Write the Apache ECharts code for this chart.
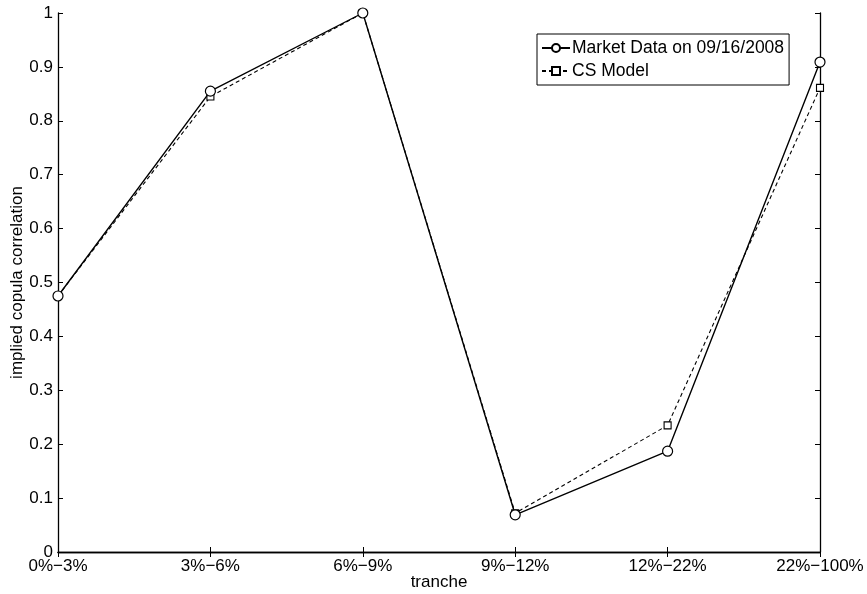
<!DOCTYPE html>
<html>
<head>
<meta charset="utf-8">
<script src="https://cdn.jsdelivr.net/npm/echarts@6/dist/echarts.min.js"></script>
<style>
html,body{margin:0;padding:0;background:#fff;}
#chart{width:867px;height:594px;}
</style>
</head>
<body>
<div id="chart"></div>
<script>
const categories = ['0%\u22123%', '3%\u22126%', '6%\u22129%', '9%\u221212%', '12%\u221222%', '22%\u2212100%'];
const marketData = [0.475, 0.855, 1.0, 0.069, 0.187, 0.909];
const csModel = [0.475, 0.845, 1.0, 0.072, 0.235, 0.861];
const yTicks = [0, 0.1, 0.2, 0.3, 0.4, 0.5, 0.6, 0.7, 0.8, 0.9, 1];

const FONT = 'Liberation Sans, Arial, Helvetica, sans-serif';
const FS = 17;
const chart = echarts.init(document.getElementById('chart'), null, {renderer: 'canvas'});
const axisLine = {show: true, lineStyle: {color: '#000', width: 1.3}};
const tick = {show: true, inside: true, length: 5, lineStyle: {color: '#000', width: 1}};

chart.setOption({
  backgroundColor: '#fff',
  animation: false,
  grid: {left: 58, right: 47, top: 13, bottom: 42, containLabel: false, outerBoundsMode: 'none'},
  legend: {
    orient: 'vertical',
    left: 537, top: 34,
    padding: [5, 5, 5, 4],
    itemGap: 5,
    itemWidth: 28, itemHeight: 10,
    backgroundColor: '#fff',
    borderColor: '#000', borderWidth: 1,
    textStyle: {fontFamily: FONT, fontSize: 17.5, color: '#000', padding: [0, 0, 0, -3]},
    data: ['Market Data on 09/16/2008', 'CS Model']
  },
  xAxis: [{
    type: 'category', data: categories, boundaryGap: false,
    name: 'tranche', nameLocation: 'middle', nameGap: 22, nameMoveOverlap: false,
    nameTextStyle: {fontFamily: FONT, fontSize: FS, color: '#000'},
    axisLine: axisLine, axisTick: Object.assign({alignWithLabel: true}, tick),
    axisLabel: {fontFamily: FONT, fontSize: FS, color: '#000', margin: 6, interval: 0},
    splitLine: {show: false}
  }, {
    type: 'category', data: categories, boundaryGap: false, position: 'top',
    axisLine: axisLine, axisTick: tick, axisLabel: {show: false}, splitLine: {show: false}
  }],
  yAxis: [{
    type: 'value', min: 0, max: 1, interval: 0.1,
    name: 'implied copula correlation', nameLocation: 'middle', nameGap: 32, nameMoveOverlap: false,
    nameTextStyle: {fontFamily: FONT, fontSize: FS, color: '#000'},
    axisLine: axisLine, axisTick: tick,
    axisLabel: {fontFamily: FONT, fontSize: FS, color: '#000', margin: 5,
      formatter: v => { const r = Math.round(v * 10) / 10; return yTicks.indexOf(r) >= 0 ? String(r) : ''; }},
    splitLine: {show: false}
  }, {
    type: 'value', min: 0, max: 1, interval: 0.1, position: 'right',
    axisLine: axisLine, axisTick: tick, axisLabel: {show: false}, splitLine: {show: false}
  }],
  series: [{
    name: 'Market Data on 09/16/2008', type: 'line', data: marketData,
    symbol: 'circle', symbolSize: 10,
    itemStyle: {color: '#fff', borderColor: '#000', borderWidth: 1.2},
    lineStyle: {color: '#000', width: 1.4, type: 'solid'},
    z: 3
  }, {
    name: 'CS Model', type: 'line', data: csModel,
    symbol: 'rect', symbolSize: 7,
    itemStyle: {color: '#fff', borderColor: '#000', borderWidth: 1.1},
    lineStyle: {color: '#000', width: 1.1, type: [4, 3]},
    z: 2
  }]
});
</script>
</body>
</html>
